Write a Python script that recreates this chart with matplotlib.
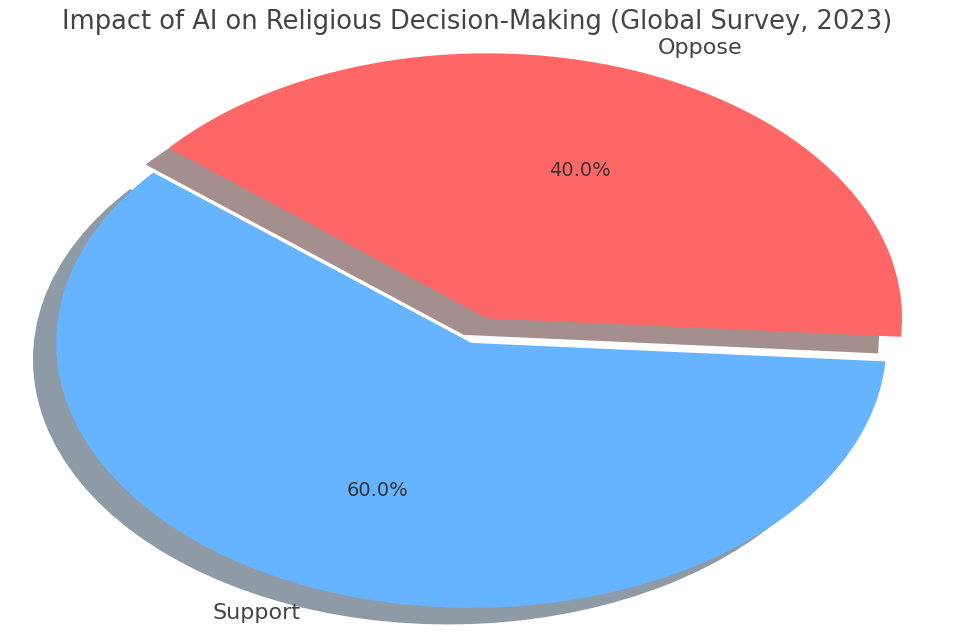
import matplotlib
matplotlib.use("Agg")
import matplotlib.pyplot as plt

labels = ["Support", "Oppose"]
shares = [60, 40]
colors = ["#66b3ff", "#ff6666"]
explode = [0, 0.1]

fig = plt.figure(figsize=(9.55, 6.32), dpi=100)
ax = fig.add_axes([0, 0, 1, 1])

wedges, texts, autotexts = ax.pie(
    shares,
    labels=labels,
    colors=colors,
    explode=explode,
    autopct="%1.1f%%",
    startangle=140,
    shadow={"ox": -0.04, "oy": -0.045},
    wedgeprops={"linewidth": 0},
    textprops={"fontsize": 16, "color": "#444444"},
)
for t in autotexts:
    t.set_fontsize(14)
    t.set_color("#333333")

# stretched (non-equal) aspect, pie centre sits slightly left of middle
ax.set_aspect("auto")
ax.set_xlim(-1.135, 1.165)
ax.set_ylim(-1.091, 1.294)

fig.text(0.5, 1 - 22 / 632, "Impact of AI on Religious Decision-Making (Global Survey, 2023)",
         ha="center", va="center", fontsize=18.5, color="#444444")

fig.savefig("out.png", dpi=100)
